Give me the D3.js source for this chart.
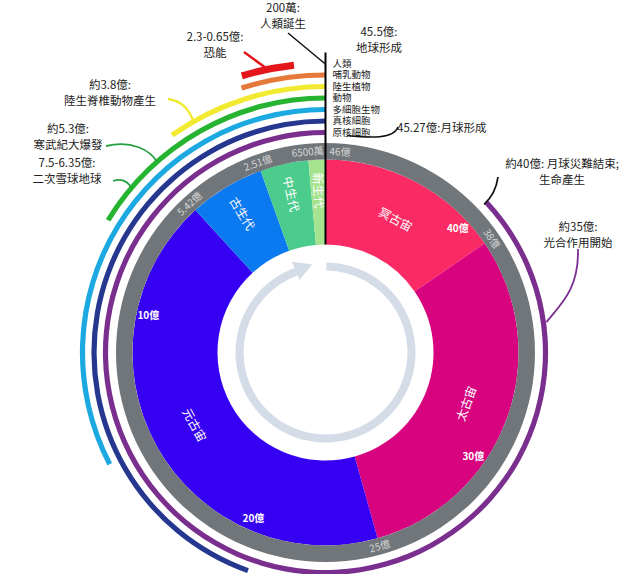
<!DOCTYPE html>
<html>
<head>
<meta charset="utf-8">
<script src="https://cdn.jsdelivr.net/npm/d3@7"></script>
<style>
  body { margin: 0; background: #fff; }
  svg { display: block; font-family: "Noto Sans CJK TC", "Noto Sans", sans-serif; }
</style>
</head>
<body>
<svg id="chart" width="640" height="574"></svg>
<script>
// 地質年代 (單位: 億年前)
const periodNames  = ['冥古宙', '太古宙', '元古宙', '古生代', '中生代', '新生代'];
const periodStarts = [46, 38.9, 25, 5.42, 2.51, 0.65];
const periodEnds   = [38.9, 25, 5.42, 2.51, 0.65, 0];

// 外環: 生命出現時間 (由外到內)
const lifeNames  = ['人類', '哺乳動物', '陸生植物', '動物', '多細胞生物', '真核細胞', '原核細胞'];
const lifeStarts = [0.02, 2.25, 4.5, 7.5, 15, 20.5, 40];
const dinoRange  = [2.15, 0.8];

// 灰環上的刻度
const bandTickValues = [46, 38.9, 25, 5.42, 2.51, 0.65];
const bandTickLabels = ['46億', '38億', '25億', '5.42億', '2.51億', '6500萬'];

// 餅內的刻度
const innerTickValues = [40, 30, 20, 10];
const innerTickLabels = ['40億', '30億', '20億', '10億'];

// 事件註解
const eventLines = [
  ['200萬:', '人類誕生'],
  ['2.3-0.65億:', '恐能'],
  ['45.5億:', '地球形成'],
  ['約3.8億:', '陸生脊椎動物產生'],
  ['約5.3億:', '寒武紀大爆發'],
  ['7.5-6.35億:', '二次雪球地球'],
  ['45.27億:月球形成'],
  ['約40億: 月球災難結束;', '生命產生'],
  ['約35億:', '光合作用開始']
];
const eventValues = [0.02, 1.475, 45.5, 3.8, 5.3, 6.35, 45.27, 40, 35.5];
const eventRings  = ['人類', '人類', null, '陸生植物', '動物', '動物', '原核細胞', '原核細胞', '原核細胞'];

// styles / layout
const periodColors = ['#fa2a64', '#d8047f', '#3600f2', '#0b79f0', '#4ccc8c', '#a6e38e'];
const lifeColors   = ['#e4161c', '#e5793a', '#f2ea30', '#25b330', '#1ca9e1', '#25378f', '#7a2f8e'];
const eventLayout = [
  { x: 283, y: 12, anchor: 'middle', from: [288, 33], color: '#111', w: 1.5 },
  { x: 215, y: 41, anchor: 'middle', from: [244, 52], color: '#e4161c', w: 2.5 },
  { x: 379, y: 36, anchor: 'middle', from: null },
  { x: 110, y: 89, anchor: 'middle', from: [168, 99], c1: [184, 101], c2: [190, 112], color: '#f2ea30', w: 2.5 },
  { x: 68, y: 133, anchor: 'middle', from: [106, 146], c1: [132, 140], c2: [150, 150], color: '#25a040', w: 1.8 },
  { x: 67, y: 167, anchor: 'middle', from: [113, 181], c1: [122, 178], c2: [128, 182], color: '#25a040', w: 1.8 },
  { x: 397, y: 132, anchor: 'start', from: [398, 127], c1: [394, 139], c2: [370, 138], color: '#111', w: 1.5, dr: -2 },
  { x: 562, y: 168, anchor: 'middle', from: [498, 177], c1: [496, 192], c2: [490, 199], color: '#111', w: 1.8, dr: -3 },
  { x: 578, y: 231, anchor: 'middle', from: [578, 249], c1: [579, 290], c2: [560, 305], color: '#7a2f8e', w: 1.8, dr: 3 }
];

const svg = d3.select('#chart');
const cx = 325.5, cy = 352.5;
const rHole = 108, rPie = 193, rBand = 209.5;

const angle = d3.scaleLinear().domain([46, 0]).range([0, 2 * Math.PI]);
const ringR = d3.scalePoint().domain(lifeNames).range([289, 220]);
const deg = v => angle(v) * 180 / Math.PI;
const polar = (v, r) => [r * Math.sin(angle(v)), -r * Math.cos(angle(v))];
const tangentRot = v => { let d = deg(v); if (d > 90 && d < 270) d -= 180; return d; };

const g = svg.append('g').attr('transform', `translate(${cx},${cy})`);

// 地質年代扇形
const pieArc = d3.arc().innerRadius(rHole).outerRadius(rPie);
g.selectAll('path.period')
  .data(periodNames)
  .join('path')
  .attr('class', 'period')
  .attr('d', (d, i) => pieArc({ startAngle: angle(periodStarts[i]), endAngle: angle(periodEnds[i]) }))
  .attr('fill', (d, i) => periodColors[i]);

// 灰色時間環
g.append('path')
  .attr('d', d3.arc().innerRadius(rPie).outerRadius(rBand)({ startAngle: 0, endAngle: 2 * Math.PI }))
  .attr('fill', '#71767b');

// 生命環
const ringArc = d3.arc();
g.selectAll('path.life')
  .data(lifeNames)
  .join('path')
  .attr('class', 'life')
  .attr('d', (d, i) => ringArc({
    innerRadius: ringR(d) - 2.6, outerRadius: ringR(d) + 2.6,
    startAngle: angle(lifeStarts[i]), endAngle: 2 * Math.PI
  }))
  .attr('fill', (d, i) => lifeColors[i]);

// 恐龍
g.append('path')
  .attr('d', ringArc({
    innerRadius: ringR('人類') - 3.5, outerRadius: ringR('人類') + 3.5,
    startAngle: angle(dinoRange[0]), endAngle: angle(dinoRange[1])
  }))
  .attr('fill', lifeColors[0]);

// 灰環刻度
g.selectAll('text.band')
  .data(bandTickValues)
  .join('text')
  .attr('class', 'band')
  .attr('transform', (v, i) => {
    const [x, y] = polar(v, (rPie + rBand) / 2);
    return `translate(${x},${y}) rotate(${i === 0 ? 3 : tangentRot(v)})`;
  })
  .attr('text-anchor', (v, i) => i === 0 ? 'start' : 'middle')
  .attr('dx', (v, i) => i === 0 ? 4 : 0)
  .attr('dy', '0.35em')
  .attr('fill', '#d6d6d6')
  .attr('font-size', 10)
  .text((v, i) => bandTickLabels[i]);

// 餅內刻度
g.selectAll('text.inner')
  .data(innerTickValues)
  .join('text')
  .attr('class', 'inner')
  .attr('x', v => polar(v, 181)[0])
  .attr('y', v => polar(v, 181)[1])
  .attr('dy', '0.35em')
  .attr('text-anchor', 'middle')
  .attr('fill', '#fff')
  .attr('font-weight', 'bold')
  .attr('font-size', 10)
  .text((v, i) => innerTickLabels[i]);

// 宙 / 代 名稱
g.selectAll('text.period')
  .data(periodNames)
  .join('text')
  .attr('class', 'period')
  .attr('transform', (d, i) => {
    const mid = (periodStarts[i] + periodEnds[i]) / 2;
    const isEra = i >= 3;
    const [x, y] = polar(mid, isEra ? 162 : 150);
    const rot = isEra ? deg(mid) - 270 : tangentRot(mid);
    return `translate(${x},${y}) rotate(${rot})`;
  })
  .attr('text-anchor', 'middle')
  .attr('dy', '0.35em')
  .attr('fill', '#fff')
  .attr('font-size', 12)
  .text(d => d);

// 中心箭頭
const arrowR = 86;
g.append('path')
  .attr('d', d3.arc().innerRadius(arrowR - 4).outerRadius(arrowR + 4)({ startAngle: 0.01, endAngle: 2 * Math.PI - 0.34 }))
  .attr('fill', '#d4dce7');
const headPt = (a, r) => [r * Math.sin(a), -r * Math.cos(a)];
g.append('path')
  .attr('d', d3.line()([headPt(-0.345, 77), headPt(-0.355, 97), headPt(-0.15, 89)]) + 'Z')
  .attr('fill', '#d4dce7');

// 現在 (0) 的垂直線
g.append('line')
  .attr('x1', 0).attr('x2', 0)
  .attr('y1', -rHole).attr('y2', -300)
  .attr('stroke', '#000')
  .attr('stroke-width', 2);

// 生命環標籤
g.selectAll('text.legend')
  .data(lifeNames)
  .join('text')
  .attr('class', 'legend')
  .attr('x', 7)
  .attr('y', d => -ringR(d))
  .attr('dy', '0.35em')
  .attr('fill', '#222')
  .attr('font-size', 9.5)
  .text(d => d);

// 事件註解
const ann = svg.append('g');
eventLines.forEach((lines, i) => {
  const L = eventLayout[i];
  const t = ann.append('text')
    .attr('x', L.x).attr('y', L.y)
    .attr('text-anchor', L.anchor)
    .attr('fill', '#222')
    .attr('font-size', 11.5);
  lines.forEach((s, k) => {
    t.append('tspan').attr('x', L.x).attr('dy', k === 0 ? 0 : 16).text(s);
  });
  if (!L.from) return;
  const r = ringR(eventRings[i]) + (L.dr || 0);
  const [px, py] = polar(eventValues[i], r);
  const p = d3.path();
  p.moveTo(L.from[0], L.from[1]);
  if (L.c1) p.bezierCurveTo(L.c1[0], L.c1[1], L.c2[0], L.c2[1], cx + px, cy + py);
  else p.lineTo(cx + px, cy + py);
  ann.append('path')
    .attr('d', p.toString())
    .attr('fill', 'none')
    .attr('stroke', L.color)
    .attr('stroke-width', L.w);
});
</script>
</body>
</html>
